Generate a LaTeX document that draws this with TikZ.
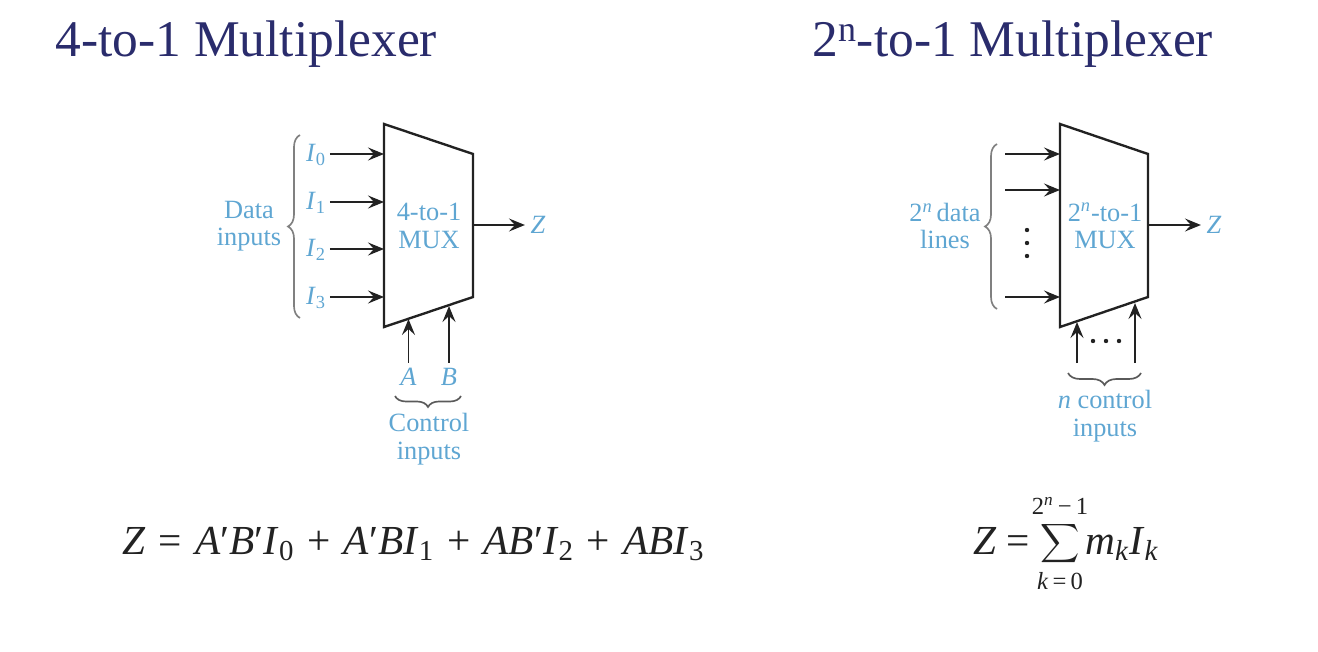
\documentclass[tikz,border=0pt]{standalone}
\usepackage{fontspec}
\setmainfont{Liberation Serif}
\usetikzlibrary{arrows.meta,decorations.pathreplacing}
\definecolor{titlenavy}{HTML}{2A2C6C}
\definecolor{labelblue}{HTML}{5FA6D2}
\definecolor{inkdark}{HTML}{222222}
\definecolor{bracegray}{HTML}{808080}
\definecolor{bracedark}{HTML}{5A5A5A}
\newcommand{\isub}[2]{\textit{#1}\textsubscript{#2}}
\newcommand{\opgap}[1]{\hspace{7.45pt}#1\hspace{7.45pt}}
\tikzset{
  titletext/.style={anchor=base west, inner sep=0pt, text=titlenavy, font=\fontsize{29.3}{32}\selectfont},
  bluelabel/.style={align=center, inner sep=0pt, text=labelblue, font=\fontsize{15}{15.7}\selectfont},
  eqtext/.style={anchor=base west, inner sep=0pt, text=inkdark, font=\fontsize{23.5}{26}\selectfont},
  limittext/.style={inner sep=0pt, text=inkdark, font=\fontsize{14}{16}\selectfont},
  muxbody/.style={draw=inkdark, line width=1.35pt, line join=miter},
  signal/.style={draw=inkdark, line width=0.95pt, -{Stealth[length=3.2mm,width=2.6mm,inset=1.2mm]}},
  ctrltag/.style={bluelabel, inner xsep=0pt, inner ysep=3pt},
  datatag/.style={bluelabel, inner xsep=2pt, inner ysep=2pt},
  bracemark/.style={decorate, line width=0.95pt},
  vdot/.style={circle, fill=inkdark, inner sep=0pt, minimum size=2.5pt}
}
\begin{document}
\begin{tikzpicture}[x=0.02cm,y=-0.02cm]
\useasboundingbox (0,0) rectangle (1318,652);
\node[titletext] (titleleft) at (55,57) {4-to-1 Multiplexer};
\node[titletext] (titleright) at (812,57) {2\textsuperscript{n}-to-1 Multiplexer};

\draw[muxbody] (384,124) -- (473,154) -- (473,297) -- (384,327) -- cycle;
\node[bluelabel] (muxfour) at (429,226) {4-to-1\\MUX};
\node[datatag] (i0) at (316,155) {\isub{I}{0}};
\node[datatag] (i1) at (316,203) {\isub{I}{1}};
\node[datatag] (i2) at (316,250) {\isub{I}{2}};
\node[datatag] (i3) at (316,298) {\isub{I}{3}};
\coordinate (e0) at (384,154);
\coordinate (e1) at (384,202);
\coordinate (e2) at (384,249);
\coordinate (e3) at (384,297);
\draw[signal] (i0.east |- e0) -- (e0);
\draw[signal] (i1.east |- e1) -- (e1);
\draw[signal] (i2.east |- e2) -- (e2);
\draw[signal] (i3.east |- e3) -- (e3);
\node[bluelabel] (datalabel) at (249,226) {Data\\inputs};
\draw[bracemark, draw=bracegray, decoration={brace,amplitude=0.24cm}] (300,318) -- (300,135);
\node[bluelabel, inner xsep=3pt] (zfour) at (538,225) {\textit{Z}};
\coordinate (outfour) at (473,225);
\draw[signal] (outfour) -- (zfour.west);
\node[ctrltag] (ctrla) at (408.5,377) {\textit{A}};
\node[ctrltag] (ctrlb) at (449,377) {\textit{B}};
\coordinate (sela) at (408.5,319);
\coordinate (selb) at (449,306);
\draw[signal] (ctrla.north) -- (sela);
\draw[signal] (ctrlb.north) -- (selb);
\draw[bracemark, draw=bracedark, decoration={brace,amplitude=0.22cm}] (461,396) -- (395,396);
\node[bluelabel] (ctrllabel) at (429,439) {Control\\inputs};
\node[eqtext] (eqfour) at (122,554) {\textit{Z}\opgap{=}\textit{A}′\textit{B}′\isub{I}{0}\opgap{+}\textit{A}′\textit{BI}\textsubscript{1}\opgap{+}\textit{AB}′\isub{I}{2}\opgap{+}\textit{ABI}\textsubscript{3}};

\draw[muxbody] (1060,124) -- (1148,154) -- (1148,297) -- (1060,327) -- cycle;
\node[bluelabel] (muxmany) at (1105,226) {2\textsuperscript{\textit{n}}-to-1\\MUX};
\coordinate (s0) at (1005,154);
\coordinate (s1) at (1005,190);
\coordinate (s2) at (1005,297);
\coordinate (t0) at (1060,154);
\coordinate (t1) at (1060,190);
\coordinate (t2) at (1060,297);
\draw[signal] (s0) -- (t0);
\draw[signal] (s1) -- (t1);
\draw[signal] (s2) -- (t2);
\node[vdot] (vd0) at (1027,230) {};
\node[vdot] (vd1) at (1027,243) {};
\node[vdot] (vd2) at (1027,256) {};
\node[bluelabel] (linelabel) at (945,226) {2\textsuperscript{\textit{n}}\hspace{0.15em}data\\lines};
\draw[bracemark, draw=bracegray, decoration={brace,amplitude=0.24cm}] (997,309) -- (997,144);
\node[bluelabel, inner xsep=3pt] (zmany) at (1214,225) {\textit{Z}};
\coordinate (outmany) at (1148,225);
\draw[signal] (outmany) -- (zmany.west);
\coordinate (c0) at (1077,363);
\coordinate (c1) at (1135,363);
\coordinate (d0) at (1077,322);
\coordinate (d1) at (1135,303);
\draw[signal] (c0) -- (d0);
\draw[signal] (c1) -- (d1);
\node[vdot] (hd0) at (1093,341) {};
\node[vdot] (hd1) at (1106,341) {};
\node[vdot] (hd2) at (1119,341) {};
\draw[bracemark, draw=bracedark, decoration={brace,amplitude=0.24cm}] (1141,373) -- (1068,373);
\node[bluelabel] (nlabel) at (1105,416) {\textit{n} control\\inputs};
\node[eqtext] (eqmany) at (973,554) {\textit{Z} =};
\node[scale=1.55, text=inkdark, inner sep=0pt] (sumsign) at (1060,544) {$\displaystyle\sum$};
\node[limittext] (sumtop) at (1060,506) {2\textsuperscript{\textit{n}}\,−\,1};
\node[limittext] (sumbot) at (1060,581) {\textit{k}\,=\,0};
\node[eqtext] (sumterm) at (1085,554) {\isub{m}{\textit{k}}\isub{I}{\textit{k}}};
\end{tikzpicture}
\end{document}
